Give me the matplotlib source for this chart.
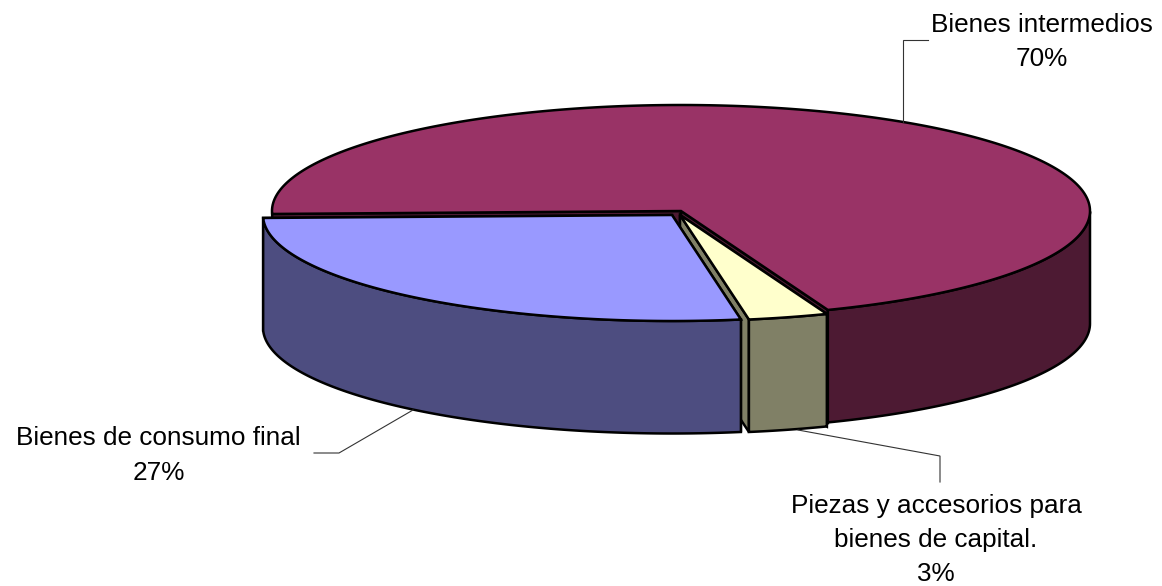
import numpy as np
import matplotlib
matplotlib.use("Agg")
import matplotlib.pyplot as plt
from matplotlib.patches import Polygon

# clockwise from the left end of the pie
categories = ["Bienes intermedios", "Piezas y accesorios para\nbienes de capital.", "Bienes de consumo final"]
shares = [69.6, 3.15, 27.25]
top_colors = ["#993366", "#FFFFCC", "#9999FF"]
side_colors = ["#4D1A33", "#808066", "#4D4D80"]

# pixel layout of the pie
centres = [(681, 211), (680, 215), (672, 215)]
rx, ry = 409, 106
depth = 112.5
start_angle = 181.6

label_pos = [(1042, 42), (936, 540), (158.5, 455.5)]
leaders = [
    ([928, 903, 903], [40, 40, 122]),
    ([798, 940, 940], [430, 456, 482]),
    ([314, 339, 413], [453, 453, 410]),
]

plt.rcParams["font.family"] = ["Liberation Sans", "DejaVu Sans"]

fig = plt.figure(figsize=(11.62, 5.86), dpi=100)
ax = fig.add_axes([0, 0, 1, 1])
ax.set_xlim(0, 1162)
ax.set_ylim(586, 0)
ax.axis("off")


def rim(cx, cy, t):
    return np.column_stack([cx + rx * np.cos(np.radians(t)), cy - ry * np.sin(np.radians(t))])


def poly(pts, color):
    ax.add_patch(Polygon(pts, closed=True, facecolor=color, edgecolor="black",
                         linewidth=1.8, joinstyle="miter"))


def draw_slice(cx, cy, t0, t1, top, side):
    down = np.array([0, depth])
    apex = np.array([[cx, cy]])
    ts = np.linspace(t0, t1, 300)
    arc = rim(cx, cy, ts)

    # cut faces first, the slice itself hides those facing away
    for p in (arc[0], arc[-1]):
        poly(np.array([apex[0], p, p + down, apex[0] + down]), side)

    # outer wall, front half of the ellipse only
    front = ts[ts <= 0]
    if len(front) > 1:
        edge = rim(cx, cy, front)
        poly(np.vstack([edge, edge[::-1] + down]), side)

    poly(np.vstack([apex, arc]), top)


angle = start_angle
for i in range(len(shares)):
    sweep = shares[i] / sum(shares) * 360
    draw_slice(centres[i][0], centres[i][1], angle, angle - sweep, top_colors[i], side_colors[i])
    angle -= sweep

for xs, ys in leaders:
    ax.plot(xs, ys, color="#333333", linewidth=0.8, solid_joinstyle="miter")

for i in range(len(categories)):
    ax.text(label_pos[i][0], label_pos[i][1], f"{categories[i]}\n{round(shares[i])}%",
            ha="center", va="center", multialignment="center", fontsize=18.8,
            linespacing=1.55, color="black")

fig.savefig("out.png", dpi=100)
